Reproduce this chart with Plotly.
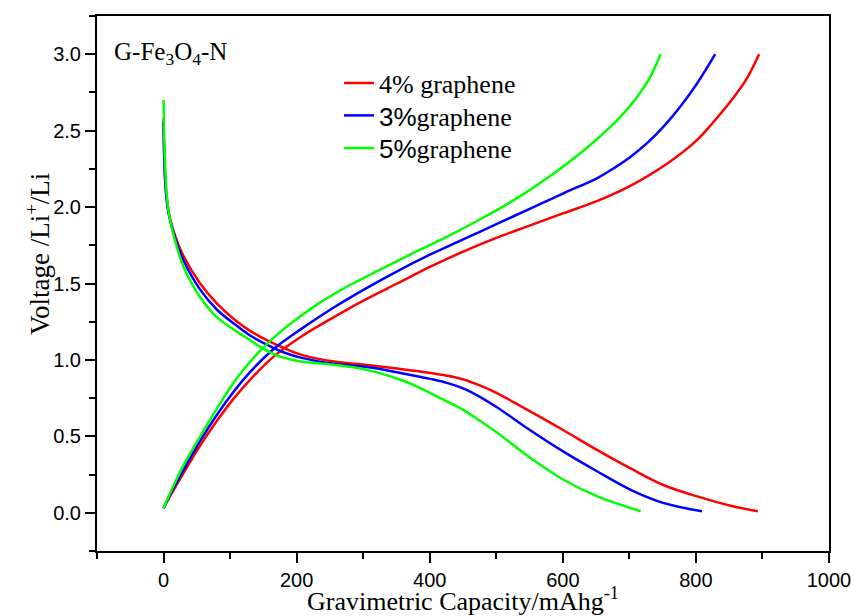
import plotly.graph_objects as go

# ---- data (capacity in mAh/g, voltage in V) ----
red_dis_x = [0, 1, 3, 6, 10, 20, 30, 55, 80, 105, 130, 155, 180, 206, 256, 306, 356, 401, 426, 451, 476, 501, 526, 551, 601, 652, 702, 752, 802, 852, 893]
red_dis_v = [2.58, 2.35, 2.15, 2.02, 1.92, 1.78, 1.68, 1.50, 1.37, 1.27, 1.19, 1.13, 1.08, 1.035, 0.99, 0.967, 0.94, 0.915, 0.897, 0.872, 0.832, 0.783, 0.724, 0.663, 0.54, 0.41, 0.29, 0.18, 0.107, 0.046, 0.01]
red_chg_x = [0, 10, 30, 55, 80, 105, 130, 165, 206, 256, 301, 351, 401, 451, 501, 551, 601, 652, 702, 752, 802, 827, 852, 875, 895]
red_chg_v = [0.03, 0.11, 0.26, 0.44, 0.60, 0.745, 0.87, 1.02, 1.15, 1.28, 1.39, 1.50, 1.61, 1.71, 1.80, 1.88, 1.96, 2.04, 2.14, 2.27, 2.44, 2.56, 2.69, 2.83, 3.0]

blue_dis_x = [0, 1, 3, 6, 10, 20, 30, 55, 80, 105, 130, 155, 180, 206, 256, 306, 356, 401, 426, 451, 476, 501, 551, 601, 652, 702, 752, 809]
blue_dis_v = [2.56, 2.33, 2.13, 2.00, 1.91, 1.76, 1.65, 1.46, 1.33, 1.24, 1.16, 1.10, 1.05, 1.015, 0.975, 0.953, 0.915, 0.876, 0.85, 0.812, 0.757, 0.69, 0.54, 0.40, 0.27, 0.15, 0.063, 0.01]
blue_chg_x = [0, 10, 30, 55, 80, 105, 130, 165, 206, 251, 301, 351, 401, 451, 501, 551, 601, 652, 677, 702, 727, 752, 777, 802, 829]
blue_chg_v = [0.03, 0.12, 0.28, 0.47, 0.64, 0.79, 0.92, 1.07, 1.20, 1.33, 1.46, 1.58, 1.69, 1.79, 1.89, 1.99, 2.09, 2.19, 2.255, 2.33, 2.42, 2.53, 2.66, 2.81, 3.0]

green_dis_x = [0, 1, 2.5, 5, 10, 20, 30, 55, 80, 105, 130, 145, 165, 180, 200, 216, 256, 306, 356, 381, 406, 431, 451, 476, 501, 551, 601, 652, 717]
green_dis_v = [2.70, 2.45, 2.26, 2.07, 1.91, 1.74, 1.61, 1.41, 1.28, 1.20, 1.13, 1.085, 1.04, 1.015, 0.995, 0.985, 0.968, 0.935, 0.87, 0.825, 0.772, 0.718, 0.672, 0.60, 0.525, 0.36, 0.216, 0.107, 0.01]
green_chg_x = [0, 10, 30, 55, 80, 110, 145, 180, 230, 280, 330, 380, 430, 480, 530, 580, 630, 680, 710, 730, 747]
green_chg_v = [0.03, 0.13, 0.31, 0.50, 0.68, 0.88, 1.06, 1.20, 1.36, 1.49, 1.60, 1.71, 1.815, 1.93, 2.055, 2.20, 2.365, 2.56, 2.71, 2.84, 3.0]

series = [
    ("4% graphene", "#FF0000", red_dis_x, red_dis_v, red_chg_x, red_chg_v),
    ("<span style='font-family:Liberation Sans'>3%</span>graphene", "#0000FF", blue_dis_x, blue_dis_v, blue_chg_x, blue_chg_v),
    ("<span style='font-family:Liberation Sans'>5%</span>graphene", "#00FF00", green_dis_x, green_dis_v, green_chg_x, green_chg_v),
]
legend_ids = ["legend", "legend2", "legend3"]
legend_tops = [0.9187, 0.858, 0.7972]

fig = go.Figure()
for (name, color, dx, dv, cx, cv), lid in zip(series, legend_ids):
    fig.add_trace(go.Scatter(
        x=list(dx) + [None] + list(cx),
        y=list(dv) + [None] + list(cv),
        mode="lines", name=name, legend=lid,
        line=dict(color=color, width=2.5, shape="spline", smoothing=1.0),
        connectgaps=False,
    ))

SERIF = "Liberation Serif, Times New Roman, serif"
SANS = "Liberation Sans, Arial, sans-serif"

axis_common = dict(
    showline=True, linecolor="black", linewidth=2, mirror=True,
    ticks="outside", ticklen=10, tickwidth=2, tickcolor="black",
    showgrid=False, zeroline=False, automargin=False,
    tickfont=dict(family=SANS, size=20, color="black"),
)

legend_style = dict(x=0.3306, xanchor="left", yanchor="top",
                    font=dict(family=SERIF, size=26, color="black"),
                    bgcolor="rgba(0,0,0,0)")

fig.update_layout(
    width=857, height=616,
    margin=dict(l=97, r=28, t=16, b=65, autoexpand=False),
    paper_bgcolor="white", plot_bgcolor="white",
    showlegend=True,
    legend=dict(y=legend_tops[0], **legend_style),
    legend2=dict(y=legend_tops[1], **legend_style),
    legend3=dict(y=legend_tops[2], **legend_style),
    xaxis=dict(
        range=[-100, 1000], tickvals=[0, 200, 400, 600, 800, 1000],
        minor=dict(dtick=100, tick0=0, ticks="outside", ticklen=6, tickwidth=2, tickcolor="black"),
        title=dict(text="Gravimetric Capacity/mAhg<sup>-1</sup>",
                   font=dict(family=SERIF, size=26, color="black"),
                   standoff=0),
        **axis_common,
    ),
    yaxis=dict(
        range=[-0.25, 3.25], tickvals=[0, 0.5, 1.0, 1.5, 2.0, 2.5, 3.0], tickformat=".1f",
        minor=dict(dtick=0.25, tick0=0, ticks="outside", ticklen=6, tickwidth=2, tickcolor="black"),
        **axis_common,
    ),
    annotations=[
        dict(
            text="G-Fe<sub>3</sub>O<sub>4</sub>-N", xref="paper", yref="paper",
            x=0.02, y=0.93, xanchor="left", yanchor="middle", showarrow=False,
            font=dict(family=SERIF, size=25, color="black"),
        ),
        dict(
            text="Voltage /Li<sup>+</sup>/Li", xref="paper", yref="paper",
            x=-0.0806, y=0.555, xanchor="center", yanchor="middle", showarrow=False,
            textangle=-90,
            font=dict(family=SERIF, size=27, color="black"),
        ),
    ],
)

fig.write_html("out.html", config={"displayModeBar": False},
               post_script="document.body.style.margin='0';")
